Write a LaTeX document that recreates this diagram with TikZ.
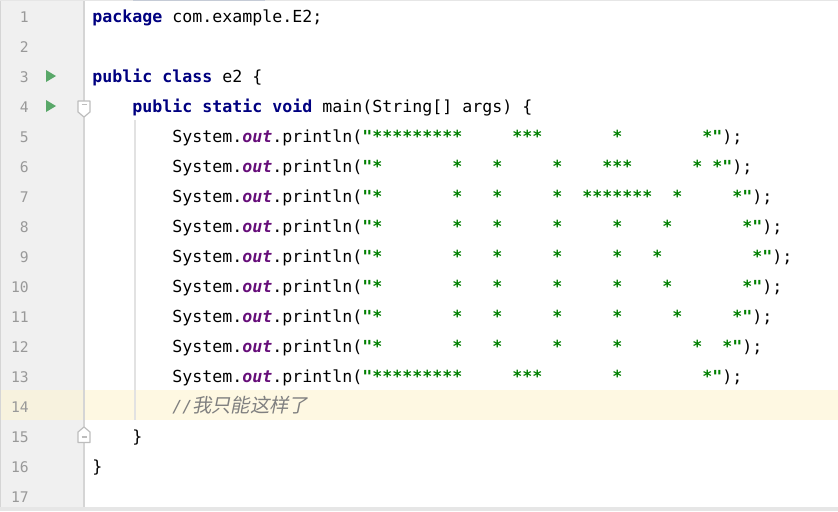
\documentclass[tikz,border=0pt]{standalone}
\usepackage{fontspec}
\usepackage{xcolor}
\usepackage{tikz}
\newfontfamily\codefont{DejaVu Sans Mono}
\newfontfamily\cjkfont[FakeSlant=0.2]{Noto Sans CJK SC}
\definecolor{gutterbg}{HTML}{F0F0F0}
\definecolor{gutterline}{HTML}{D5D5D5}
\definecolor{caretrow}{HTML}{FEF8E2}
\definecolor{caretgut}{HTML}{F7F2DE}
\definecolor{lnum}{HTML}{999999}
\definecolor{runarrow}{HTML}{59A869}
\definecolor{foldline}{HTML}{BDBDBD}
\definecolor{guideline}{HTML}{E2E2E2}
\definecolor{kwblue}{HTML}{000080}
\definecolor{fieldpurple}{HTML}{660E7A}
\definecolor{strgreen}{HTML}{008000}
\definecolor{cmtgrey}{HTML}{808080}
\definecolor{barbg}{HTML}{E6E6E6}
\definecolor{topbar}{HTML}{C5CBD6}
\newcommand\kwd[1]{{\bfseries\color{kwblue}#1}}
\newcommand\fld[1]{{\bfseries\itshape\color{fieldpurple}#1}}
\newcommand\strlit[1]{{\bfseries\color{strgreen}#1}}
\tikzset{
  code/.style={anchor=base west, inner sep=0pt, font=\codefont\fontsize{12.46}{15}\selectfont},
  linenum/.style={anchor=base east, inner sep=0pt, text=lnum, font=\codefont\fontsize{11}{13}\selectfont},
  run/.style={fill=runarrow},
  fold/.style={draw=foldline, fill=white, line width=0.9pt, line join=round},
  guide/.style={draw=guideline, line width=1pt},
}
\begin{document}
\begin{tikzpicture}[x=0.75pt,y=-0.75pt]
  \useasboundingbox (0,0) rectangle (838,511);
  \fill[white] (0,0) rectangle (838,511);
  \fill[gutterbg] (0,0) rectangle (84,507);
  \fill[caretrow] (84,390) rectangle (838,420);
  \fill[caretgut] (0,390) rectangle (84,420);
  \draw[gutterline, line width=1.1pt] (84,0) -- (84,507);
  \draw[gutterline, line width=0.8pt] (0.5,0) -- (0.5,507);
  \fill[barbg] (0,506.5) rectangle (838,511);
  \fill[barbg] (0,0) rectangle (838,1.2);
  \fill[topbar] (133,0) rectangle (265,1.2);
  \draw[guide] (135,120) -- (135,420);

  \foreach \n in {1,...,17}
    \node[linenum] (ln\n) at (29,{22.5+30*(\n-1)}) {\n};

  \foreach \n in {3,4}
    \fill[run] (46,{70+30*(\n-3)}) -- (56,{76+30*(\n-3)}) -- (46,{82+30*(\n-3)}) -- cycle;

  \draw[fold] (78,101) -- (90,101) -- (90,112) -- (84,117) -- (78,112) -- cycle;
  \draw[foldline, line width=0.9pt] (81.5,104.5) -- (86.5,104.5);
  \draw[fold] (78,442.5) -- (90,442.5) -- (90,432) -- (84,427) -- (78,432) -- cycle;
  \draw[foldline, line width=0.9pt] (81.5,437) -- (86.5,437);

  \node[code] (c1) at (92,22.5) {\kwd{package} com.example.E2;};
  \node[code] (c3) at (92,82.5) {\kwd{public class} e2 \{};
  \node[code] (c4) at (132,112.5) {\kwd{public static void} main(String[] args) \{};
  \node[code] (c5) at (172,142.5) {System.\fld{out}.println(\strlit{"*********~~~~~***~~~~~~~*~~~~~~~~*"});};
  \node[code] (c6) at (172,172.5) {System.\fld{out}.println(\strlit{"*~~~~~~~*~~~*~~~~~*~~~~***~~~~~~*~*"});};
  \node[code] (c7) at (172,202.5) {System.\fld{out}.println(\strlit{"*~~~~~~~*~~~*~~~~~*~~*******~~*~~~~~*"});};
  \node[code] (c8) at (172,232.5) {System.\fld{out}.println(\strlit{"*~~~~~~~*~~~*~~~~~*~~~~~*~~~~*~~~~~~~*"});};
  \node[code] (c9) at (172,262.5) {System.\fld{out}.println(\strlit{"*~~~~~~~*~~~*~~~~~*~~~~~*~~~*~~~~~~~~~*"});};
  \node[code] (c10) at (172,292.5) {System.\fld{out}.println(\strlit{"*~~~~~~~*~~~*~~~~~*~~~~~*~~~~*~~~~~~~*"});};
  \node[code] (c11) at (172,322.5) {System.\fld{out}.println(\strlit{"*~~~~~~~*~~~*~~~~~*~~~~~*~~~~~*~~~~~*"});};
  \node[code] (c12) at (172,352.5) {System.\fld{out}.println(\strlit{"*~~~~~~~*~~~*~~~~~*~~~~~*~~~~~~~*~~*"});};
  \node[code] (c13) at (172,382.5) {System.\fld{out}.println(\strlit{"*********~~~~~***~~~~~~~*~~~~~~~~*"});};
  \node[code, text=cmtgrey] (c14) at (172,412.5) {\itshape//{\cjkfont\fontsize{14.5}{16}\selectfont 我只能这样了}};
  \node[code] (c15) at (132,442.5) {\}};
  \node[code] (c16) at (92,472.5) {\}};
\end{tikzpicture}
\end{document}
